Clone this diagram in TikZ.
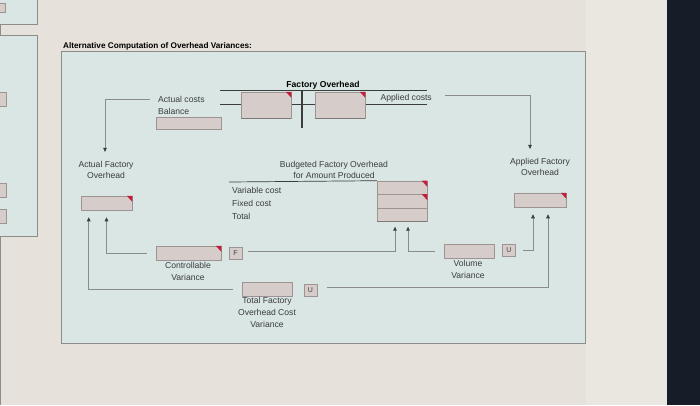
\documentclass[tikz,border=0pt]{standalone}
\usepackage{fontspec}
\setmainfont{Liberation Sans}
\usetikzlibrary{arrows.meta}
\definecolor{paper}{HTML}{E6E1DA}
\definecolor{paperlight}{HTML}{EAE6E0}
\definecolor{bezel}{HTML}{161D29}
\definecolor{panelbg}{HTML}{DAE6E3}
\definecolor{panelrule}{HTML}{8C8C8A}
\definecolor{fieldbg}{HTML}{D6CDCA}
\definecolor{fieldrule}{HTML}{9C9392}
\definecolor{fieldshade}{HTML}{7E7878}
\definecolor{flag}{HTML}{C21E3A}
\definecolor{linkgrey}{HTML}{8A8C8C}
\definecolor{inkdark}{HTML}{3A3C3E}
\definecolor{txt}{HTML}{3A3C3E}
\newcommand{\lbl}{\fontsize{8.6}{11.6}\selectfont}
\newcommand{\ttl}{\fontsize{8.2}{10}\selectfont\bfseries}
\newcommand{\tagf}{\fontsize{7}{8}\selectfont}

\begin{document}
\begin{tikzpicture}[x=1pt,y=-1pt,
  field/.style 2 args={draw=fieldrule,fill=fieldbg,line width=0.5pt,inner sep=0,minimum width=#1,minimum height=#2},
  tag/.style={draw=fieldrule,fill=fieldbg,line width=0.5pt,inner sep=0,minimum width=13pt,minimum height=12pt,font=\tagf,text=txt},
  lbl/.style={inner sep=0,text=txt,font=\lbl},
  link/.style={linkgrey,line width=0.6pt},
  feed/.style={link,-{Triangle[length=4pt,width=3.6pt,color=inkdark]}},
  rule/.style={inkdark,line width=#1}]
\useasboundingbox (0,0) rectangle (700,405);
\fill[paper] (0,0) rectangle (700,405);
\fill[paperlight] (586,0) rectangle (667,405);
\fill[bezel] (667,0) rectangle (700,405);
\draw[panelrule,line width=1pt] (0.5,0) -- (0.5,405);
% side panels
\draw[panelrule,fill=panelbg,line width=0.6pt] (-2,-2) rectangle (37,24);
\draw[panelrule,fill=panelbg,line width=0.6pt] (-2,35) rectangle (37,236);
\draw[fieldrule,fill=fieldbg] (-2,3) rectangle (5,12);
\foreach \y in {92,183,209}
  \draw[fieldrule,fill=fieldbg] (-2,\y) rectangle (6,\y+14);
% main panel
\node[anchor=west,inner sep=0,text=black,font=\ttl] (title) at (63,46) {Alternative Computation of Overhead Variances:};
\draw[panelrule,fill=panelbg,line width=0.8pt] (61,51) rectangle (585,343);
% factory overhead account
\node[lbl,text=black,font=\lbl\bfseries] (fohead) at (323,85) {Factory Overhead};
\draw[rule=0.7pt] (220,104) -- (427,104);
\node[field={50pt}{26pt}] (fodr) at (266,105) {};
\node[field={50pt}{26pt}] (focr) at (340,105) {};
\draw[rule=1.4pt] (220,90.5) -- (427,90.5);
\draw[rule=1.4pt] (302,90.5) -- (302,128);
\node[lbl,anchor=west] (actcost) at (158,99) {Actual costs};
\node[lbl,anchor=west] (balance) at (158,111) {Balance};
\node[field={65pt}{12pt}] (balbox) at (188.5,123) {};
\node[lbl,anchor=east] (appcost) at (432,98) {Applied costs};
% actual and applied
\node[lbl,align=center] (actlbl) at (106,170) {Actual Factory\\Overhead};
\node[field={51pt}{14pt}] (actbox) at (106.5,203) {};
\node[lbl,align=center] (applbl) at (540,167) {Applied Factory\\Overhead};
\node[field={52pt}{14pt}] (appbox) at (540,200) {};
% budget
\node[lbl,align=center] (budlbl) at (334,170) {Budgeted Factory Overhead\\for Amount Produced};
\node[lbl,anchor=west] (varc) at (232,190) {Variable cost};
\node[lbl,anchor=west] (fixc) at (232,203) {Fixed cost};
\node[lbl,anchor=west] (totc) at (232,216) {Total};
\foreach \n/\y in {stk1/187.7,stk2/201.2,stk3/214.7}
  \node[field={50pt}{13.5pt}] (\n) at (402,\y) {};
\draw[rule=0.7pt] (229,182) -- (stk1.north west);
% variances
\node[field={65pt}{14pt}] (ctrlbox) at (188.5,253) {};
\node[tag] (ftag) at (235.5,253) {F};
\node[lbl,align=center] (ctrllbl) at (188,271.5) {Controllable\\Variance};
\node[field={50pt}{14pt}] (totbox) at (267,289) {};
\node[tag] (utagtot) at (310.5,290) {U};
\node[lbl,align=center] (totlbl) at (267,312.5) {Total Factory\\Overhead Cost\\Variance};
\node[field={50pt}{14pt}] (volbox) at (469,251) {};
\node[tag] (utagvol) at (509,250.5) {U};
\node[lbl,align=center] (vollbl) at (468,269.5) {Volume\\Variance};
\foreach \n in {fodr,focr,actbox,appbox,stk1,stk2,ctrlbox}
  \fill[flag] ([xshift=-5.5pt]\n.north east) -- (\n.north east) -- ([yshift=-6pt]\n.north east) -- cycle;
\foreach \n in {fodr,focr,stk3}
  \draw[fieldshade,line width=1.2pt] (\n.south west) -- (\n.south east);
% connectors
\draw[feed,shorten >=9pt] ([xshift=-8pt]actcost.west) -| ([xshift=-1pt]actlbl.north);
\draw[feed,shorten >=9pt] ([xshift=13pt,yshift=3pt]appcost.east) -| ([xshift=-10pt]applbl.north);
\draw[feed,shorten >=7pt] ([xshift=-9pt]ctrlbox.west) -| (actbox.south);
\draw[feed,shorten >=7pt] ([xshift=-9pt]totbox.west) -| ([xshift=8pt]actbox.south west);
\draw[feed,shorten >=5pt] ([xshift=6pt,yshift=2pt]ftag.east) -| ([xshift=-7pt]stk3.south);
\draw[feed,shorten >=5pt] ([xshift=-9pt]volbox.west) -| ([xshift=6pt]stk3.south);
\draw[feed,shorten >=7pt] ([xshift=7pt]utagvol.east) -| ([xshift=-7pt]appbox.south);
\draw[feed,shorten >=7pt] ([xshift=10pt,yshift=3pt]utagtot.east) -| ([xshift=8pt]appbox.south);
\end{tikzpicture}
\end{document}
